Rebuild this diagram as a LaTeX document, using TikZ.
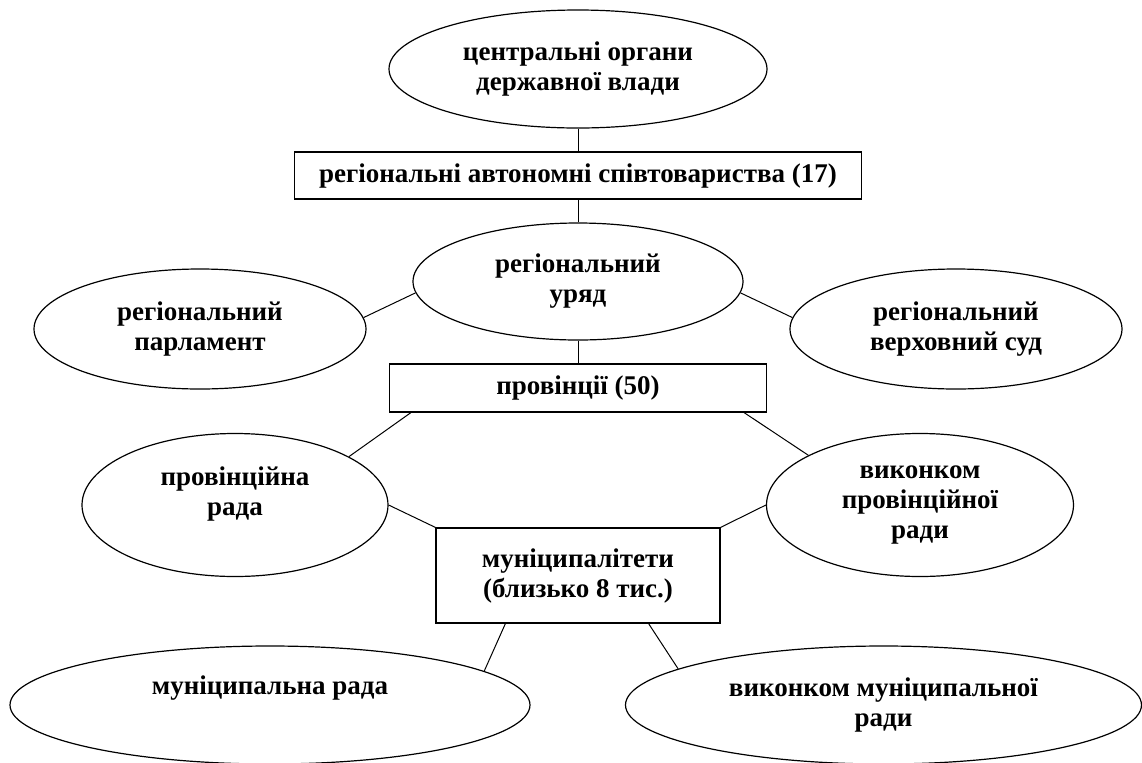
\documentclass[tikz,border=0pt]{standalone}
\usepackage{fontspec}
\setmainfont{Liberation Serif}
\usetikzlibrary{shapes.geometric}

\tikzset{
  oval/.style={draw,ellipse,line width=0.6pt,inner sep=0pt,align=center},
  box/.style={draw,rectangle,line width=0.6pt,inner sep=0pt,align=center},
  link/.style={line width=0.5pt}
}

\begin{document}
\begin{tikzpicture}[x=0.5pt,y=-0.5pt,font=\bfseries\fontsize{13.5}{15}\selectfont]
            \useasboundingbox (0,0) rectangle (1142,762);

            \node[oval,minimum width=189pt,minimum height=59pt] (central) at (578,69) {центральні органи\\державної влади};
            \node[box,minimum width=283.5pt,minimum height=23.5pt] (regions) at (578,175.5) {регіональні автономні співтовариства (17)};
            \node[oval,minimum width=165pt,minimum height=58.5pt] (reggov) at (578,281.5) {регіональний\\уряд};
            \node[oval,minimum width=166pt,minimum height=60pt] (regparl) at (200,329) {регіональний\\парламент};
            \node[oval,minimum width=166pt,minimum height=60pt] (regcourt) at (956,329) {регіональний\\верховний суд};
            \node[box,minimum width=188.5pt,minimum height=24pt] (provinces) at (578,388) {провінції (50)};
            \node[oval,minimum width=153pt,minimum height=71.5pt] (provcouncil) at (235,505) {провінційна\\рада\\[-6pt]\strut};
            \node[oval,minimum width=153.5pt,minimum height=71.5pt] (provexec) at (920,505) {виконком\\провінційної\\ради};
            \node[box,minimum width=142pt,minimum height=47.5pt] (municip) at (578,575.5) {муніципалітети\\(близько 8 тис.)};
            \node[oval,minimum width=260pt,minimum height=59pt] (muncouncil) at (270,705) {муніципальна рада\\\strut};
            \node[oval,minimum width=258pt,minimum height=59pt] (munexec) at (883.5,705) {виконком муніципальної\\ради};

            \draw[link] (central) -- (regions);
            \draw[link] (regions) -- (reggov);
            \draw[link] (reggov) -- (provinces);
            \draw[link] (regparl.4) -- (reggov.184);
            \draw[link] (reggov.-4) -- (regcourt.176);
            \draw[link] ([xshift=11pt]provinces.south west) -- (provcouncil.23);
            \draw[link] ([xshift=-11.5pt]provinces.south east) -- (provexec.156);
            \draw[link] (provcouncil.east) -- (municip.north west);
            \draw[link] (provexec.west) -- (municip.north east);
            \draw[link] ([xshift=35pt]municip.south west) -- (muncouncil.9);
            \draw[link] ([xshift=-36pt]municip.south east) -- (munexec.170);

        \end{tikzpicture}
\end{document}
